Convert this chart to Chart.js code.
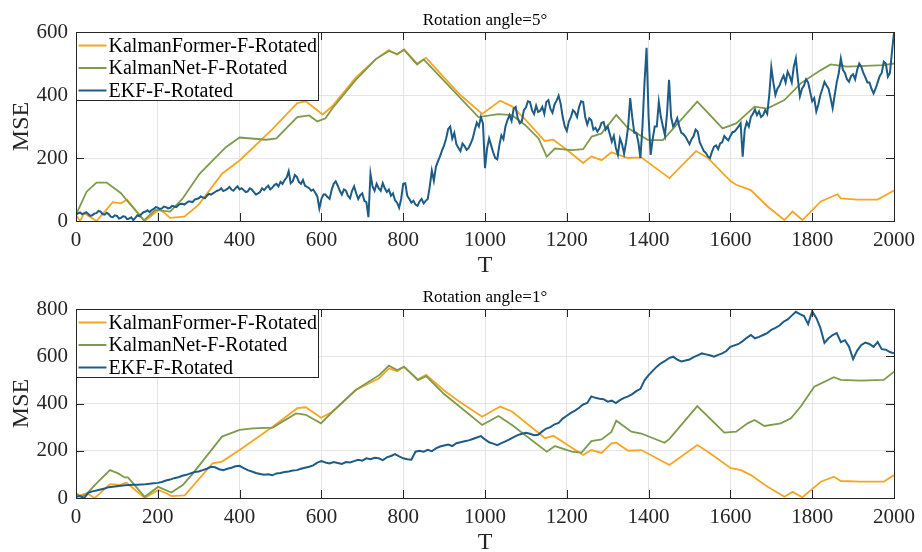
<!DOCTYPE html>
<html>
<head>
<meta charset="utf-8">
<script src="https://cdn.jsdelivr.net/npm/chart.js@4.4.1/dist/chart.umd.min.js"></script>
<style>
  html, body { margin: 0; padding: 0; background: #fff; overflow: hidden; }
  #wrap { position: relative; width: 922px; height: 552px; }
  .panel { position: absolute; left: 0; width: 922px; height: 290px; }
</style>
</head>
<body>
<div id="wrap">
  <div class="panel" style="top:0px"><canvas id="chart5"></canvas></div>
  <div class="panel" style="top:277px"><canvas id="chart1"></canvas></div>
</div>
<script>
// series names
var names = ['KalmanFormer-F-Rotated', 'KalmanNet-F-Rotated', 'EKF-F-Rotated'];
var colors = ['#F5A623', '#7E9A4B', '#1D5C87'];

// x ticks
var xTicks = [0, 200, 400, 600, 800, 1000, 1200, 1400, 1600, 1800, 2000];

// ---- Rotation angle = 5 deg ----
var kf5T = [0, 10, 20, 50, 90, 110, 125, 168, 205, 230, 265, 300, 357, 400, 479, 541, 562, 603, 627, 684, 733, 765, 785, 802, 834, 856, 900, 940, 993, 1037, 1066, 1100, 1146, 1167, 1200, 1240, 1260, 1285, 1309, 1350, 1382, 1451, 1516, 1545, 1601, 1614, 1650, 1691, 1732, 1752, 1776, 1821, 1862, 1870, 1910, 1960, 2000];
var kf5 = [19, 0, 25, 0, 60, 56, 68, 0, 38, 10, 14, 52, 150, 192, 290, 374, 380, 338, 365, 455, 514, 543, 528, 545, 500, 518, 455, 400, 340, 382, 364, 320, 254, 258, 226, 184, 205, 193, 218, 200, 202, 136, 222, 200, 126, 115, 98, 46, 3, 30, 3, 62, 85, 72, 68, 68, 97];

var kn5T = [0, 26, 50, 75, 110, 124, 166, 194, 230, 260, 302, 367, 400, 465, 490, 541, 570, 590, 610, 627, 684, 733, 765, 785, 802, 834, 850, 900, 984, 1033, 1066, 1098, 1131, 1151, 1171, 1212, 1240, 1261, 1285, 1321, 1350, 1399, 1435, 1519, 1581, 1614, 1659, 1690, 1732, 1772, 1821, 1845, 1886, 1975, 2000];
var kn5 = [20, 93, 122, 122, 88, 66, 2, 35, 30, 70, 150, 235, 265, 258, 262, 330, 335, 316, 326, 358, 448, 514, 540, 530, 543, 497, 513, 445, 330, 339, 336, 305, 262, 204, 230, 225, 228, 268, 278, 337, 294, 257, 257, 379, 294, 310, 363, 357, 384, 437, 479, 497, 490, 495, 500];

// EKF (5 deg) sampled every 5 steps, one row per 100 steps
var ekf5Step = 5;
var ekf5 = [
  20, 24, 27, 22, 24, 28, 22, 16, 18, 24, 25, 32, 30, 22, 20, 26, 22, 14, 12, 18,
  16, 8, 10, 15, 14, 6, 8, 12, 3, 10, 18, 15, 22, 28, 30, 34, 28, 35, 38, 44,
  42, 38, 40, 46, 44, 40, 42, 48, 46, 44, 50, 54, 55, 52, 57, 62, 62, 60, 68, 70,
  72, 78, 75, 72, 80, 86, 84, 88, 92, 96, 98, 104, 95, 98, 102, 108, 100, 96, 104, 110,
  100, 104, 98, 92, 94, 104, 100, 92, 84, 88, 92, 104, 98, 106, 112, 100, 106, 114, 118, 110,
  124, 118, 130, 138, 158, 120, 126, 146, 140, 124, 118, 130, 112, 108, 104, 96, 100, 90, 78, 40,
  70, 84, 84, 76, 70, 98, 118, 126, 112, 96, 84, 100, 96, 80, 72, 96, 110, 88, 70, 82,
  88, 64, 60, 12, 150, 110, 96, 118, 104, 96, 120, 104, 92, 100, 80, 88, 66, 58, 42, 70,
  118, 120, 80, 70, 58, 64, 52, 48, 62, 70, 56, 64, 70, 110, 160, 128, 172, 190, 205, 224,
  240, 262, 292, 300, 262, 280, 244, 232, 222, 246, 238, 226, 232, 246, 262, 290, 312, 300, 330, 310,
  168, 230, 262, 240, 218, 200, 196, 240, 272, 260, 300, 320, 336, 318, 356, 362, 326, 310, 316, 352,
  360, 380, 378, 352, 340, 366, 346, 350, 362, 340, 378, 384, 356, 344, 370, 382, 398, 372, 330, 300,
  286, 316, 330, 352, 345, 330, 362, 380, 378, 330, 306, 326, 320, 290, 296, 284, 294, 312, 314, 290,
  300, 276, 252, 270, 232, 210, 262, 244, 214, 250, 300, 390, 330, 280, 280, 250, 200, 300, 440, 550,
  330, 210, 260, 300, 300, 378, 330, 300, 272, 340, 448, 330, 300, 310, 326, 300, 280, 276, 268, 256,
  244, 260, 270, 290, 284, 250, 236, 222, 216, 205, 200, 220, 236, 240, 228, 246, 250, 270, 262, 256,
  270, 282, 284, 292, 300, 310, 204, 290, 314, 300, 330, 340, 354, 336, 348, 330, 336, 352, 340, 400,
  488, 440, 400, 420, 430, 448, 462, 440, 474, 460, 440, 490, 516, 450, 396, 420, 430, 450, 440, 410,
  380, 390, 348, 370, 400, 420, 442, 430, 420, 390, 358, 400, 440, 470, 516, 480, 470, 450, 442, 460,
  466, 450, 480, 500, 490, 470, 456, 440, 440, 420, 405, 420, 440, 460, 470, 506, 500, 458, 470, 537,
  598
];

// ---- Rotation angle = 1 deg ----
var kf1T = [0, 26, 46, 83, 107, 123, 168, 201, 221, 233, 266, 334, 357, 400, 481, 541, 562, 599, 627, 684, 741, 765, 785, 802, 836, 856, 900, 936, 993, 1037, 1066, 1147, 1167, 1240, 1260, 1285, 1309, 1321, 1350, 1382, 1451, 1519, 1545, 1601, 1626, 1650, 1691, 1732, 1752, 1776, 1821, 1853, 1870, 1918, 1975, 2000];
var kf1 = [5, 20, 0, 59, 55, 65, 0, 34, 20, 8, 11, 147, 154, 203, 302, 380, 384, 340, 365, 457, 507, 549, 537, 556, 502, 521, 455, 410, 344, 387, 366, 253, 264, 182, 203, 191, 231, 234, 200, 203, 140, 224, 196, 126, 118, 97, 48, 5, 26, 3, 69, 90, 72, 69, 69, 97];

var kn1T = [0, 12, 26, 50, 83, 103, 119, 127, 168, 201, 233, 261, 286, 357, 400, 432, 481, 538, 562, 599, 627, 684, 741, 765, 785, 802, 836, 856, 900, 993, 1033, 1066, 1151, 1171, 1212, 1236, 1260, 1285, 1309, 1321, 1358, 1382, 1439, 1451, 1519, 1585, 1614, 1642, 1659, 1683, 1723, 1748, 1772, 1805, 1853, 1870, 1918, 1975, 2000];
var kn1 = [20, 5, 17, 62, 118, 104, 87, 87, 5, 47, 23, 55, 104, 260, 288, 295, 298, 358, 352, 316, 365, 457, 520, 560, 542, 555, 499, 516, 440, 309, 347, 309, 196, 220, 196, 192, 241, 248, 280, 327, 281, 273, 234, 250, 389, 277, 281, 316, 330, 305, 316, 337, 387, 471, 511, 500, 497, 500, 535];

// EKF (1 deg) sampled every 10 steps
var ekf1Step = 10;
var ekf1 = [
  5, 8, 0, 22, 28, 32, 36, 40, 46, 48,
  50, 52, 54, 55, 56, 56, 57, 58, 60, 62,
  64, 68, 74, 78, 84, 88, 94, 98, 104, 110,
  112, 118, 124, 132, 130, 122, 118, 124, 128, 134,
  136, 126, 118, 112, 106, 102, 98, 100, 96, 104,
  106, 110, 112, 116, 118, 124, 128, 132, 138, 150,
  156, 150, 146, 152, 148, 144, 152, 150, 156, 162,
  158, 168, 164, 170, 168, 160, 172, 178, 186, 176,
  168, 164, 162, 196, 200, 196, 204, 198, 210, 218,
  222, 226, 220, 232, 236, 240, 244, 250, 256, 262,
  248, 236, 230, 224, 232, 240, 248, 258, 266, 272,
  276, 272, 266, 268, 282, 294, 300, 312, 318, 336,
  348, 360, 370, 382, 396, 402, 430, 424, 420, 418,
  408, 412, 402, 414, 424, 430, 440, 452, 462, 498,
  520, 538, 556, 570, 580, 592, 598, 586, 578, 582,
  586, 596, 604, 612, 608, 604, 598, 606, 612, 622,
  640, 646, 652, 664, 678, 690, 676, 682, 690, 698,
  712, 720, 730, 746, 756, 772, 788, 778, 770, 736,
  790, 762, 720, 656, 676, 690, 698, 660, 668, 640,
  588, 624, 648, 658, 652, 640, 660, 630, 628, 618,
  612
];

function pairs(ts, vs) {
  return vs.map(function (v, i) { return { x: ts[i], y: v }; });
}
function stepPairs(vs, step) {
  return vs.map(function (v, i) { return { x: i * step, y: v }; });
}

var serif = "'Liberation Serif', 'Times New Roman', serif";
var axisColor = '#262626';

// box, inward ticks and legend drawn like the MATLAB figure
var matlabFrame = {
  id: 'matlabFrame',
  afterDatasetsDraw: function (chart) {
    var ctx = chart.ctx, a = chart.chartArea;
    var xs = chart.scales.x, ys = chart.scales.y;
    ctx.save();
    ctx.strokeStyle = axisColor;
    ctx.lineWidth = 1;
    ctx.beginPath();
    xs.ticks.forEach(function (t) {
      var px = Math.round(xs.getPixelForValue(t.value)) + 0.5;
      ctx.moveTo(px, a.bottom); ctx.lineTo(px, a.bottom - 8);
      ctx.moveTo(px, a.top); ctx.lineTo(px, a.top + 8);
    });
    ys.ticks.forEach(function (t) {
      var py = Math.round(ys.getPixelForValue(t.value)) + 0.5;
      ctx.moveTo(a.left, py); ctx.lineTo(a.left + 8, py);
      ctx.moveTo(a.right, py); ctx.lineTo(a.right - 8, py);
    });
    ctx.stroke();
    ctx.strokeRect(Math.round(a.left) + 0.5, Math.round(a.top) + 0.5,
      Math.round(a.right - a.left), Math.round(a.bottom - a.top));

    // legend
    var lx = Math.round(a.left) + 0.5, ly = Math.round(a.top) + 0.5;
    ctx.fillStyle = '#fff';
    ctx.fillRect(lx, ly, 242, 68);
    ctx.strokeRect(lx, ly, 242, 68);
    var rows = [13, 35.5, 58];
    ctx.font = '20px ' + serif;
    ctx.textBaseline = 'middle';
    ctx.textAlign = 'left';
    chart.data.datasets.forEach(function (ds, i) {
      var y = ly + rows[i];
      ctx.strokeStyle = ds.borderColor;
      ctx.lineWidth = 2;
      ctx.beginPath();
      ctx.moveTo(lx + 2, y); ctx.lineTo(lx + 30, y);
      ctx.stroke();
      ctx.fillStyle = '#000';
      ctx.fillText(ds.label, lx + 32, y + 1);
    });
    ctx.restore();
  }
};

function makeChart(id, title, yMax, kfData, knData, ekfData) {
  var ctx = document.getElementById(id).getContext('2d');
  return new Chart(ctx, {
    type: 'line',
    data: {
      datasets: [
        { label: names[0], data: kfData, borderColor: colors[0], borderWidth: 1.8, order: 3 },
        { label: names[1], data: knData, borderColor: colors[1], borderWidth: 1.8, order: 2 },
        { label: names[2], data: ekfData, borderColor: colors[2], borderWidth: 2, order: 1 }
      ]
    },
    options: {
      responsive: true,
      maintainAspectRatio: false,
      animation: false,
      layout: { padding: { left: 0, right: 25, top: 0, bottom: 0 } },
      elements: { point: { radius: 0 }, line: { tension: 0 } },
      plugins: {
        legend: { display: false },
        tooltip: { enabled: false },
        title: {
          display: true,
          text: title,
          fullSize: false,
          color: '#000',
          font: { family: serif, size: 17, weight: 'normal' },
          padding: { top: 10.8, bottom: 0.8 }
        }
      },
      scales: {
        x: {
          type: 'linear',
          min: 0,
          max: 2000,
          afterBuildTicks: function (scale) {
            scale.ticks = xTicks.map(function (v) { return { value: v }; });
          },
          afterFit: function (scale) { scale.height = 69; },
          grid: { color: '#E4E4E4', drawTicks: false },
          border: { display: false },
          ticks: { color: axisColor, padding: 7, maxRotation: 0, autoSkip: false,
                   font: { family: serif, size: 21 },
                   callback: function (v) { return String(v); } },
          title: { display: true, text: 'T', color: axisColor,
                   font: { family: serif, size: 24 }, padding: { top: 0, bottom: 10 } }
        },
        y: {
          min: 0,
          max: yMax,
          afterFit: function (scale) { scale.width = 76; },
          grid: { color: '#E4E4E4', drawTicks: false },
          border: { display: false },
          ticks: { color: axisColor, padding: 8, stepSize: 200,
                   font: { family: serif, size: 21 },
                   callback: function (v) { return String(v); } },
          title: { display: true, text: 'MSE', color: axisColor,
                   font: { family: serif, size: 24 }, padding: { top: 7, bottom: 0 } }
        }
      }
    },
    plugins: [matlabFrame]
  });
}

makeChart('chart5', 'Rotation angle=5°', 600, pairs(kf5T, kf5), pairs(kn5T, kn5), stepPairs(ekf5, ekf5Step));
makeChart('chart1', 'Rotation angle=1°', 800, pairs(kf1T, kf1), pairs(kn1T, kn1), stepPairs(ekf1, ekf1Step));
</script>
</body>
</html>
